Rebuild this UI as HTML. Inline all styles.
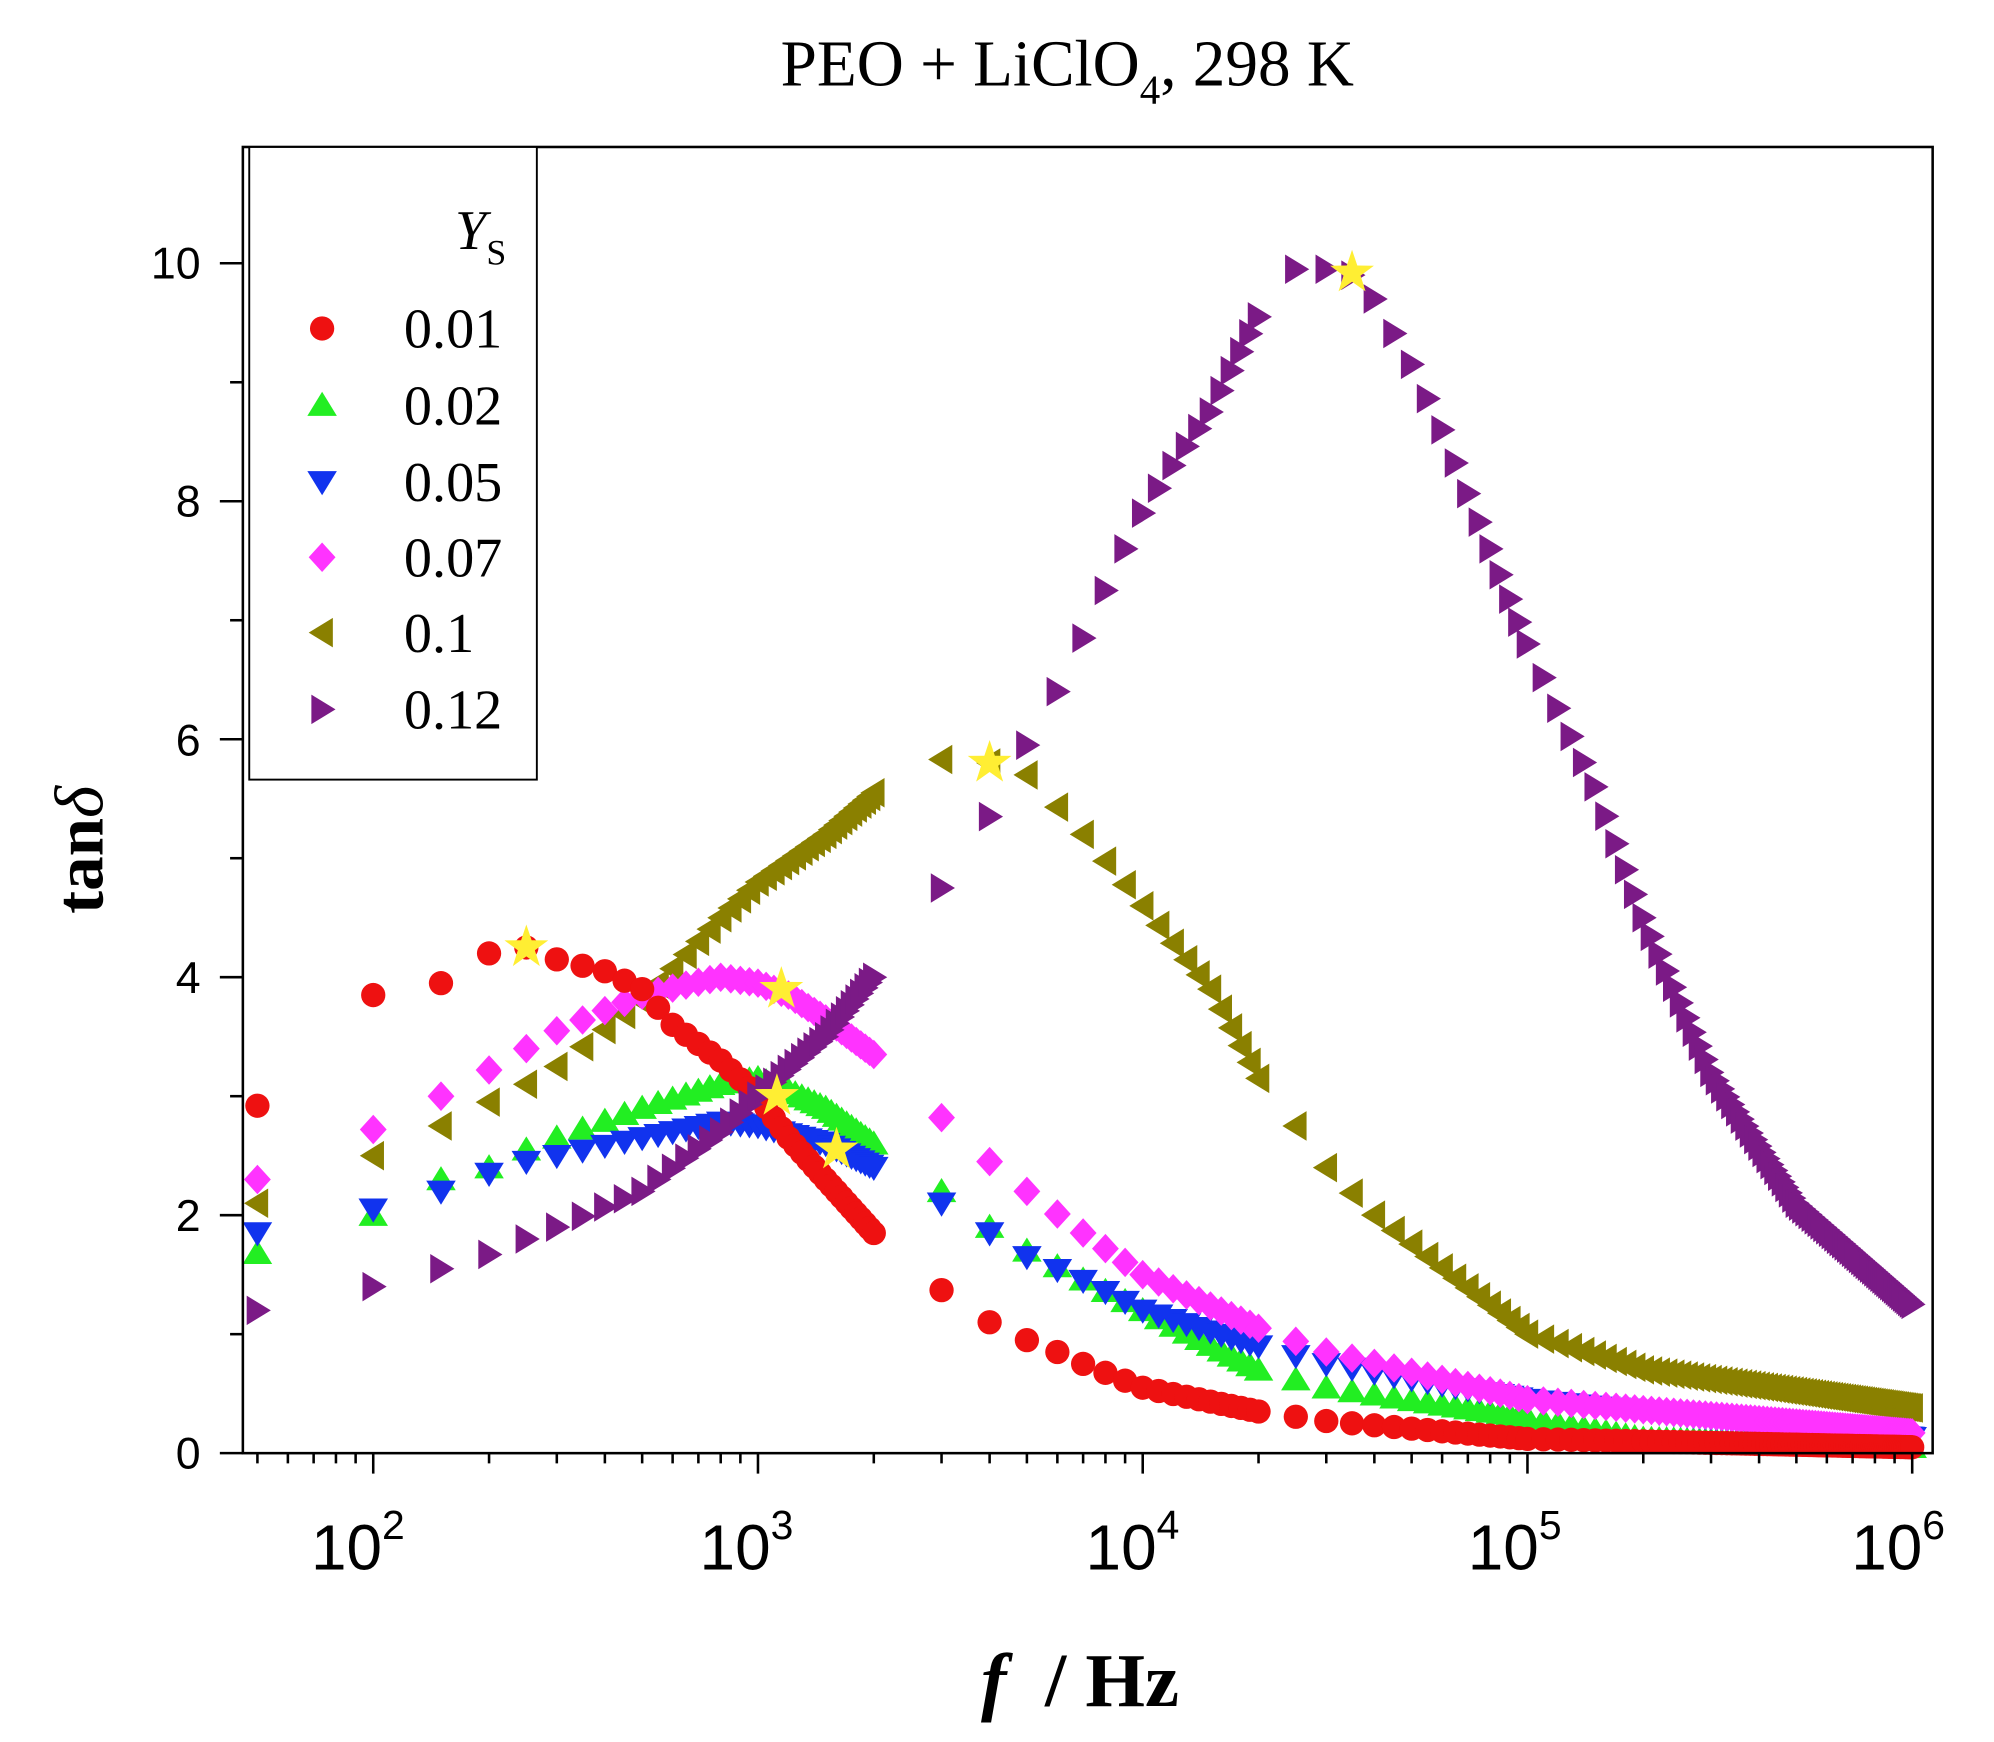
<!DOCTYPE html>
<html><head><meta charset="utf-8"><style>
html,body{margin:0;padding:0;background:#fff;}
svg{display:block;}
</style></head><body>
<svg id="s" width="1994" height="1742" viewBox="0 0 1560 1363" preserveAspectRatio="none" xmlns="http://www.w3.org/2000/svg">
<rect width="1560" height="1363" fill="#fff"/>
<g id="data"></g>
<rect x="190" y="115" width="1322" height="1022" fill="none" stroke="#000" stroke-width="2"/>
<g id="ticks" stroke="#000" stroke-width="2"></g>
<rect x="195" y="115" width="225" height="495" fill="#fff" stroke="#000" stroke-width="1.5"/>
<g font-family="Liberation Sans, sans-serif" font-size="35" text-anchor="end" fill="#000">
<text x="157" y="1149">0</text><text x="157" y="963">2</text><text x="157" y="777">4</text>
<text x="157" y="591">6</text><text x="157" y="404">8</text><text x="157" y="218">10</text>
</g>
<g font-family="Liberation Sans, sans-serif" font-size="50" fill="#000" text-anchor="middle">
<text x="280" y="1228">10<tspan font-size="32" dy="-24">2</tspan></text>
<text x="584" y="1228">10<tspan font-size="32" dy="-24">3</tspan></text>
<text x="886" y="1228">10<tspan font-size="32" dy="-24">4</tspan></text>
<text x="1185" y="1228">10<tspan font-size="32" dy="-24">5</tspan></text>
<text x="1485" y="1228">10<tspan font-size="32" dy="-24">6</tspan></text>
</g>
<text x="835" y="67" font-family="Liberation Serif, serif" font-size="51" text-anchor="middle">PEO + LiClO<tspan font-size="32" dy="14">4</tspan><tspan dy="-14">, 298 K</tspan></text>
<text x="845" y="1335" font-family="Liberation Serif, serif" font-size="60" font-weight="bold" text-anchor="middle" xml:space="preserve"><tspan font-style="italic">f</tspan>  / Hz</text>
<text transform="translate(80,665) rotate(-90)" font-family="Liberation Serif, serif" font-size="54" font-weight="bold" text-anchor="middle">tan<tspan font-style="italic" font-weight="normal">δ</tspan></text>
<g font-family="Liberation Serif, serif" font-size="44" fill="#000">
<text x="356" y="195" font-style="italic">Y<tspan font-style="normal" font-size="28" dy="12">S</tspan></text>
<text x="316" y="272">0.01</text><text x="316" y="332">0.02</text><text x="316" y="392">0.05</text>
<text x="316" y="451">0.07</text><text x="316" y="510">0.1</text><text x="316" y="570">0.12</text>
</g>
<g id="leg"></g>
</svg>
<script>
var NS="http://www.w3.org/2000/svg";
function X(f){return 292+301*(Math.log10(f)-2);}
function Y(v){return 1137-93.1*v;}
function el(p,t,a){var e=document.createElementNS(NS,t);for(var k in a)e.setAttribute(k,a[k]);p.appendChild(e);return e;}
var tk=document.getElementById('ticks');
for(var i=0;i<=10;i++){var y=Y(i);el(tk,'line',{x1:190,x2:i%2?180:172,y1:y,y2:y});}
for(var d=1;d<=6;d++){for(var m=1;m<10;m++){var f=m*Math.pow(10,d);var x=X(f);if(x<190||x>1512)continue;el(tk,'line',{x1:x,x2:x,y1:1137,y2:m==1?1153:1145});}}
function mk(p,type,x,y,c){var s=10.5;
 if(type=='c')el(p,'circle',{cx:x,cy:y,r:9.5,fill:c});
 else if(type=='u')el(p,'polygon',{points:(x)+','+(y-s)+' '+(x-s*1.1)+','+(y+s*0.8)+' '+(x+s*1.1)+','+(y+s*0.8),fill:c});
 else if(type=='d')el(p,'polygon',{points:(x)+','+(y+s)+' '+(x-s*1.1)+','+(y-s*0.8)+' '+(x+s*1.1)+','+(y-s*0.8),fill:c});
 else if(type=='m')el(p,'polygon',{points:x+','+(y-s*1.1)+' '+(x+s)+','+y+' '+x+','+(y+s*1.1)+' '+(x-s)+','+y,fill:c});
 else if(type=='l')el(p,'polygon',{points:(x-s)+','+y+' '+(x+s*0.8)+','+(y-s*1.1)+' '+(x+s*0.8)+','+(y+s*1.1),fill:c});
 else if(type=='r')el(p,'polygon',{points:(x+s)+','+y+' '+(x-s*0.8)+','+(y-s*1.1)+' '+(x-s*0.8)+','+(y+s*1.1),fill:c});
 else if(type=='s'){var pts=[];for(var k=0;k<10;k++){var r=k%2?7:18,a=-Math.PI/2+k*Math.PI/5;pts.push((x+r*Math.cos(a))+','+(y+r*Math.sin(a)));}el(p,'polygon',{points:pts.join(' '),fill:'#ffee33'});}
}
var F=[50,100,150,200];for(var f=250;f<=2000;f+=50)F.push(f);
for(f=3000;f<=20000;f+=1000)F.push(f);for(f=25000;f<=100000;f+=5000)F.push(f);for(f=110000;f<=1000000;f+=10000)F.push(f);
function interp(cp,f){var L=Math.log10(f);for(var i=0;i<cp.length-1;i++){var a=Math.log10(cp[i][0]),b=Math.log10(cp[i+1][0]);if(L>=a&&L<=b){var t=(L-a)/(b-a);return cp[i][1]+t*(cp[i+1][1]-cp[i][1]);}}return cp[cp.length-1][1];}
var S=[
['l','#8a8000',[[50,2.1],[100,2.5],[150,2.75],[200,2.95],[250,3.1],[300,3.25],[500,3.8],[800,4.5],[1000,4.8],[1500,5.2],[2000,5.55],[3000,5.83],[4000,5.8],[5000,5.7],[7000,5.2],[10000,4.6],[15000,3.9],[20000,3.15],[25000,2.75],[30000,2.4],[40000,2.0],[100000,1.0],[200000,0.7],[1000000,0.38]]],
['u','#22ee22',[[50,1.68],[100,2.0],[150,2.3],[200,2.4],[250,2.55],[300,2.65],[500,2.9],[800,3.1],[1000,3.15],[1200,3.05],[1500,2.9],[2000,2.6],[3000,2.2],[4000,1.9],[5000,1.7],[10000,1.2],[20000,0.7],[30000,0.55],[100000,0.3],[200000,0.12],[1000000,0.05]]],
['d','#1133ee',[[50,1.85],[100,2.05],[150,2.2],[200,2.35],[250,2.45],[300,2.5],[500,2.65],[800,2.78],[1000,2.75],[1500,2.6],[2000,2.4],[3000,2.1],[4000,1.85],[5000,1.65],[7000,1.45],[10000,1.2],[20000,0.9],[30000,0.75],[100000,0.45],[1000000,0.13]]],
['m','#ff33ff',[[50,2.3],[100,2.72],[150,3.0],[200,3.22],[250,3.4],[300,3.55],[500,3.85],[800,4.0],[1000,3.95],[1200,3.85],[1500,3.65],[2000,3.35],[3000,2.82],[4000,2.45],[5000,2.2],[7000,1.85],[10000,1.5],[20000,1.05],[30000,0.85],[100000,0.45],[1000000,0.17]]],
['c','#ee1111',[[50,2.92],[100,3.85],[150,3.95],[200,4.2],[250,4.25],[300,4.15],[400,4.05],[500,3.9],[600,3.6],[800,3.3],[1000,3.0],[1200,2.65],[1500,2.3],[2000,1.85],[3000,1.37],[4000,1.1],[5000,0.95],[6000,0.85],[7000,0.75],[10000,0.55],[20000,0.35],[30000,0.27],[100000,0.12],[1000000,0.05]]],
['r','#7b1a86',[[50,1.2],[100,1.4],[150,1.55],[200,1.67],[250,1.8],[300,1.9],[500,2.2],[800,2.7],[1000,3.0],[1500,3.5],[2000,4.0],[3000,4.75],[4000,5.35],[5000,5.95],[6000,6.4],[7000,6.85],[8000,7.25],[9000,7.6],[10000,7.9],[12000,8.3],[15000,8.75],[20000,9.55],[25000,9.95],[30000,9.95],[35000,9.9],[40000,9.7],[50000,9.15],[60000,8.6],[80000,7.6],[100000,6.8],[150000,5.6],[200000,4.5],[300000,3.2],[500000,2.1],[1000000,1.25]]]
];
var g=document.getElementById('data');
S.forEach(function(s){F.forEach(function(f){var x=X(f);if(x>1512)return;mk(g,s[0],x,Y(interp(s[2],f)),s[1]);});});
[[250,4.25],[4000,5.8],[35000,9.92],[1150,3.9],[1120,3.0],[1600,2.55]].forEach(function(p){mk(g,'s',X(p[0]),Y(p[1]));});
var lg=document.getElementById('leg');
mk(lg,'c',252,257,'#ee1111');mk(lg,'u',252,317,'#22ee22');mk(lg,'d',252,377,'#1133ee');
mk(lg,'m',252,436,'#ff33ff');mk(lg,'l',252,495,'#8a8000');mk(lg,'r',252,555,'#7b1a86');
</script>
</body></html>
